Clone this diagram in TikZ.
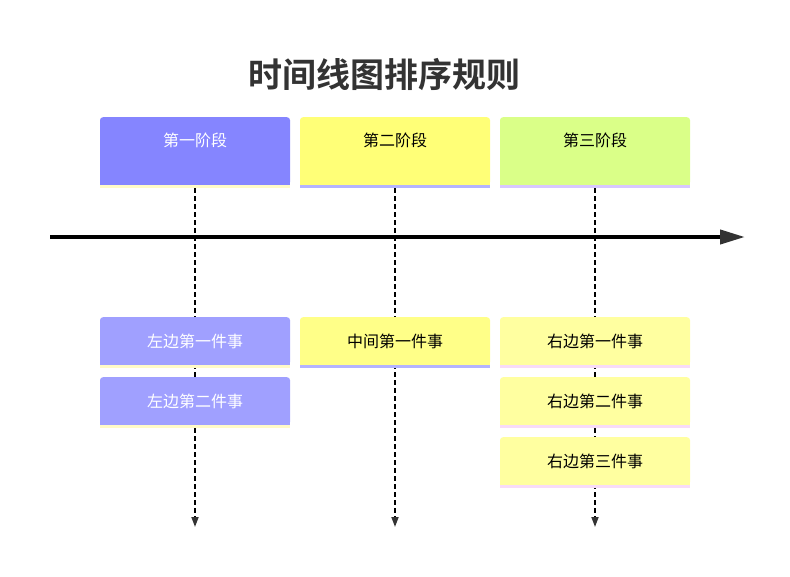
\documentclass[tikz,border=0pt]{standalone}
\usepackage{fontspec}
\setmainfont{Noto Sans CJK SC}
\newfontfamily\cjkbold{Noto Sans CJK SC Bold}
\usetikzlibrary{arrows.meta,calc}
\pgfdeclarelayer{bg}
\pgfsetlayers{bg,main}
\definecolor{sA}{HTML}{8585FF}
\definecolor{sB}{HTML}{FFFF77}
\definecolor{sC}{HTML}{DAFF88}
\definecolor{eL}{HTML}{A0A0FF}
\definecolor{eM}{HTML}{FFFF88}
\definecolor{eR}{HTML}{FFFFA0}
\definecolor{lnY}{HTML}{FFFAC8}
\definecolor{lnB}{HTML}{B4B4FF}
\definecolor{lnP}{HTML}{D8C8FF}
\definecolor{lnK}{HTML}{F8DCF8}
\definecolor{titlec}{HTML}{333333}
\tikzset{
  stagebox/.style={rectangle, rounded corners=3pt, minimum width=190pt, inner xsep=0pt,
     inner ysep=14pt, text height=15.5pt, text depth=24.5pt, font=\fontsize{16}{16}\selectfont, anchor=north},
  eventbox/.style={rectangle, rounded corners=3pt, minimum width=190pt, minimum height=48pt,
     inner sep=0pt, font=\fontsize{16}{16}\selectfont, anchor=north},
  vline/.style={line width=1.8pt, dash pattern=on 5pt off 3pt, -{Triangle[length=10pt,width=7pt,color=titlec]}},
}
\newcommand{\botline}[2]{%
  \fill[white] ($(#1.south west)+(0,-6)$) rectangle (#1.south east);
  \fill[#2] (#1.south west) rectangle ($(#1.south east)+(0,3)$);}
\begin{document}
\begin{tikzpicture}[x=1pt,y=-1pt]
\useasboundingbox (0,0) rectangle (790,576);
\node[font=\cjkbold\fontsize{34}{34}\selectfont, text=titlec] (title) at (384,75) {时间线图排序规则};
% stages
\node[stagebox, fill=sA, text=white] (s1) at (195,117) {第一阶段};
\node[stagebox, fill=sB, text=black] (s2) at (395,117) {第二阶段};
\node[stagebox, fill=sC, text=black] (s3) at (595,117) {第三阶段};
\botline{s1}{lnY}
\botline{s2}{lnB}
\botline{s3}{lnP}
\fill[sA] ($(s1.south west)+(0,-6)$) rectangle (s1.south east);
\fill[sB] ($(s2.south west)+(0,-6)$) rectangle (s2.south east);
\fill[sC] ($(s3.south west)+(0,-6)$) rectangle (s3.south east);
% events
\node[eventbox, fill=eL, text=white] (l1) at (195,317) {左边第一件事};
\node[eventbox, fill=eL, text=white] (l2) at (195,377) {左边第二件事};
\node[eventbox, fill=eM, text=black] (m1) at (395,317) {中间第一件事};
\node[eventbox, fill=eR, text=black] (r1) at (595,317) {右边第一件事};
\node[eventbox, fill=eR, text=black] (r2) at (595,377) {右边第二件事};
\node[eventbox, fill=eR, text=black] (r3) at (595,437) {右边第三件事};
\foreach \n/\c/\l in {l1/eL/lnY, l2/eL/lnY, m1/eM/lnB, r1/eR/lnK, r2/eR/lnK, r3/eR/lnK}{
  \fill[\l] (\n.south west) rectangle ($(\n.south east)+(0,3)$);
  \fill[\c] ($(\n.south west)+(0,-6)$) rectangle (\n.south east);
}
% dashed lines
\coordinate (e1) at (195,527);
\coordinate (e2) at (395,527);
\coordinate (e3) at (595,527);
\begin{pgfonlayer}{bg}
\draw[vline] ($(s1.south)+(0,3)$) -- (e1);
\draw[vline] ($(s2.south)+(0,3)$) -- (e2);
\draw[vline] ($(s3.south)+(0,3)$) -- (e3);
\end{pgfonlayer}
% timeline
\coordinate (t0) at (50,237);
\coordinate (t1) at (745,237);
\draw[line width=4pt, -{Triangle[length=25pt,width=14pt,color=titlec]}] (t0) -- (t1);
\end{tikzpicture}
\end{document}
